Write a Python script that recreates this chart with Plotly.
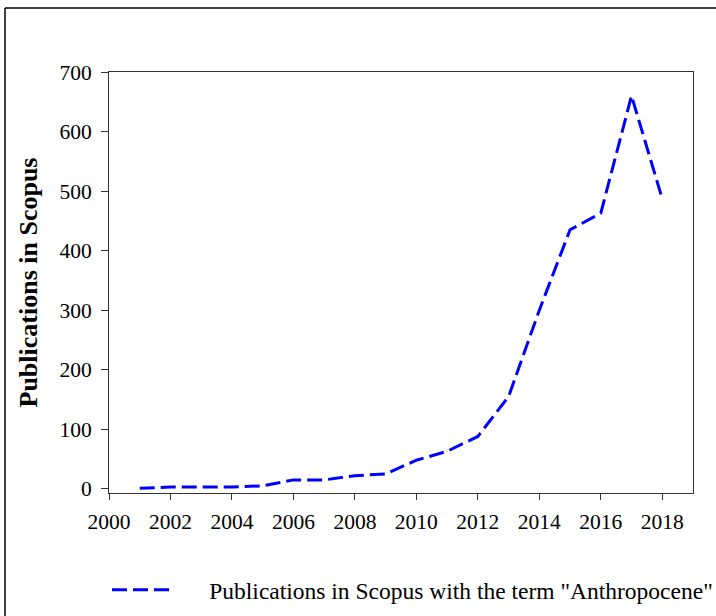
import plotly.graph_objects as go

years = [2001, 2002, 2003, 2004, 2005, 2006, 2007, 2008, 2009,
         2010, 2011, 2012, 2013, 2014, 2015, 2016, 2017, 2018]
publications = [1, 3, 3, 3, 5, 15, 15, 22, 25,
                48, 63, 88, 155, 300, 435, 463, 660, 487]
series_name = 'Publications in Scopus with the term "Anthropocene"'
x_ticks = [2000, 2002, 2004, 2006, 2008, 2010, 2012, 2014, 2016, 2018]
y_ticks = [0, 100, 200, 300, 400, 500, 600, 700]

font_family = "Liberation Serif, Times New Roman, serif"

W, H = 716, 616
L, R, T, B = 109, 23, 72, 123
pw, ph = W - L - R, H - T - B

fig = go.Figure()
fig.add_trace(go.Scatter(
    x=years, y=publications, mode="lines",
    name="\u00a0" * 6 + series_name,
    line=dict(color="#0000ff", width=3, dash="15px,6px"),
))

fig.update_layout(
    width=W, height=H,
    margin=dict(l=L, r=R, t=T, b=B, autoexpand=False),
    paper_bgcolor="white", plot_bgcolor="white",
    font=dict(family=font_family, size=21, color="black"),
    showlegend=True,
    legend=dict(
        orientation="h", x=(107 - L) / pw, y=(H - B - 568) / ph,
        xanchor="left", yanchor="top",
        font=dict(family=font_family, size=23.5, color="black"),
        bgcolor="rgba(0,0,0,0)", itemwidth=57,
    ),
    xaxis=dict(
        range=[2000, 2019], tickvals=x_ticks, ticktext=[str(v) for v in x_ticks],
        showgrid=False, zeroline=False, showline=True, linecolor="#333333",
        linewidth=1, mirror=True, ticks="outside", ticklen=6, tickcolor="#333333",
        tickfont=dict(family=font_family, size=21.5, color="black"),
        ticklabelstandoff=3,
    ),
    yaxis=dict(
        range=[-7, 700], tickvals=y_ticks, ticktext=[str(v) for v in y_ticks],
        showgrid=False, zeroline=False, showline=True, linecolor="#333333",
        linewidth=1, mirror=True, ticks="outside", ticklen=7, tickcolor="#333333",
        tickfont=dict(family=font_family, size=21.5, color="black"),
        ticklabelstandoff=5,
        title=dict(text="<b>Publications in Scopus</b>",
                   font=dict(family=font_family, size=26, color="black"),
                   standoff=14),
    ),
    shapes=[
        dict(type="line", xref="paper", yref="paper",
             x0=(5 - L) / pw, x1=(W + 20 - L) / pw,
             y0=(H - B - 8) / ph, y1=(H - B - 8) / ph,
             line=dict(color="black", width=1.5)),
        dict(type="line", xref="paper", yref="paper",
             x0=(5 - L) / pw, x1=(5 - L) / pw,
             y0=(H - B - 8) / ph, y1=(H - B - H - 20) / ph,
             line=dict(color="black", width=1.5)),
    ],
)

fig.write_html("out.html", config={"displayModeBar": False})

with open("out.html", "r", encoding="utf-8") as f:
    html = f.read()
html = html.replace("<head>", "<head><style>html,body{margin:0;padding:0;overflow:hidden;}</style>", 1)
with open("out.html", "w", encoding="utf-8") as f:
    f.write(html)
